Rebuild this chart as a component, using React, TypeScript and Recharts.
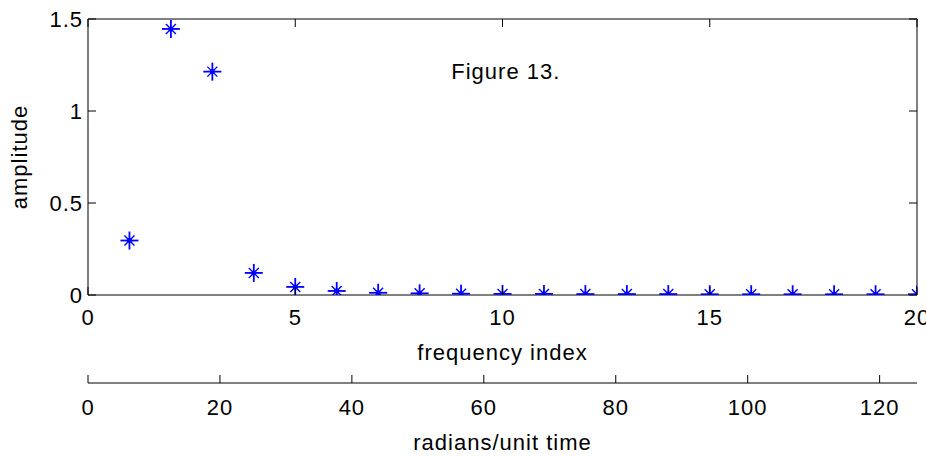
import { ScatterChart, Scatter, XAxis, YAxis, ReferenceDot } from "recharts"

// frequency index k and the measured amplitude at that index
const FREQ_INDEX = [1, 2, 3, 4, 5, 6, 7, 8, 9, 10, 11, 12, 13, 14, 15, 16, 17, 18, 19, 20]
const AMPLITUDE = [
  0.296, 1.446, 1.214, 0.12, 0.044, 0.022, 0.012, 0.009, 0.007, 0.006,
  0.006, 0.005, 0.005, 0.005, 0.004, 0.004, 0.004, 0.004, 0.004, 0.004,
]

const INDEX_TICKS = [0, 5, 10, 15, 20]
const AMP_TICKS = [0, 0.5, 1, 1.5]
const RAD_TICKS = [0, 20, 40, 60, 80, 100, 120]
const RAD_MAX = 40 * Math.PI // index 20 -> 2*pi*20 rad

const FONT = "'Liberation Sans', Arial, sans-serif"
const INK = "#000"
const TICK_LEN = 8

const points = FREQ_INDEX.map((k, i) => ({ k, amp: AMPLITUDE[i] }))
const radPoints = FREQ_INDEX.map((k, i) => ({ rad: 2 * Math.PI * k, amp: AMPLITUDE[i] }))

const textStyle = { fontFamily: FONT, fontSize: 22, fill: INK, letterSpacing: 1 }

function Asterisk(props: any) {
  const { cx, cy } = props
  if (cx == null || cy == null) return <g />
  const a = 9
  const d = 5
  return (
    <g stroke="#0000ff" fill="#0000ff">
      <line x1={cx - a} y1={cy} x2={cx + a} y2={cy} strokeWidth={1.8} />
      <line x1={cx} y1={cy - a} x2={cx} y2={cy + a} strokeWidth={1.8} />
      <line x1={cx - d} y1={cy - d} x2={cx + d} y2={cy + d} strokeWidth={1.4} />
      <line x1={cx - d} y1={cy + d} x2={cx + d} y2={cy - d} strokeWidth={1.4} />
      <circle cx={cx} cy={cy} r={2.5} stroke="none" />
    </g>
  )
}

const Nothing = () => <g />

// ticks point into the plot, MATLAB style
function BottomTick({ x, y, payload }: any) {
  return (
    <g>
      <line x1={x} y1={y} x2={x} y2={y - TICK_LEN} stroke={INK} />
      <text x={x} y={y + 30} textAnchor="middle" {...textStyle}>{payload.value}</text>
    </g>
  )
}

function RadTick({ x, y, payload }: any) {
  return (
    <g>
      <line x1={x} y1={y} x2={x} y2={y - TICK_LEN} stroke={INK} />
      <text x={x} y={y + 32} textAnchor="middle" {...textStyle}>{payload.value}</text>
    </g>
  )
}

function TopTick({ x, y }: any) {
  return <line x1={x} y1={y} x2={x} y2={y + TICK_LEN} stroke={INK} />
}

function LeftTick({ x, y, payload }: any) {
  return (
    <g>
      <line x1={x} y1={y} x2={x + TICK_LEN} y2={y} stroke={INK} />
      <text x={x - 5} y={y + 8} textAnchor="end" {...textStyle}>{payload.value}</text>
    </g>
  )
}

function RightTick({ x, y }: any) {
  return <line x1={x} y1={y} x2={x - TICK_LEN} y2={y} stroke={INK} />
}

export default function App() {
  return (
    <div style={{ position: "absolute", left: 0, top: 0, background: "#fff" }}>
      <ScatterChart width={926} height={456} margin={{ top: 18, right: 8, bottom: 0, left: 0 }}>
        <XAxis
          xAxisId="top"
          orientation="top"
          type="number"
          dataKey="k"
          domain={[0, 20]}
          ticks={INDEX_TICKS}
          interval={0}
          height={1}
          tickSize={0}
          tickMargin={0}
          tickLine={false}
          tick={<TopTick />}
          axisLine={{ stroke: INK }}
          allowDataOverflow
        />
        <XAxis
          xAxisId="idx"
          type="number"
          dataKey="k"
          domain={[0, 20]}
          ticks={INDEX_TICKS}
          interval={0}
          height={88}
          tickSize={0}
          tickMargin={0}
          tickLine={false}
          tick={<BottomTick />}
          axisLine={{ stroke: INK }}
          allowDataOverflow
          label={({ viewBox }: any) => (
            <text x={viewBox.x + viewBox.width / 2} y={viewBox.y + 65} textAnchor="middle" {...textStyle}>
              frequency index
            </text>
          )}
        />
        <XAxis
          xAxisId="rad"
          type="number"
          dataKey="rad"
          domain={[0, RAD_MAX]}
          ticks={RAD_TICKS}
          interval={0}
          height={73}
          tickSize={0}
          tickMargin={0}
          tickLine={false}
          tick={<RadTick />}
          axisLine={{ stroke: INK }}
          allowDataOverflow
          label={({ viewBox }: any) => (
            <text x={viewBox.x + viewBox.width / 2} y={viewBox.y + 67} textAnchor="middle" {...textStyle}>
              radians/unit time
            </text>
          )}
        />
        <YAxis
          yAxisId="amp"
          type="number"
          dataKey="amp"
          domain={[0, 1.5]}
          ticks={AMP_TICKS}
          interval={0}
          width={88}
          tickSize={0}
          tickMargin={0}
          tickLine={false}
          tick={<LeftTick />}
          axisLine={{ stroke: INK }}
          allowDataOverflow
          label={({ viewBox }: any) => {
            const cx = 27
            const cy = viewBox.y + viewBox.height / 2
            return (
              <text x={cx} y={cy} textAnchor="middle" transform={`rotate(-90 ${cx} ${cy})`} {...textStyle}>
                amplitude
              </text>
            )
          }}
        />
        <YAxis
          yAxisId="ampR"
          orientation="right"
          type="number"
          dataKey="amp"
          domain={[0, 1.5]}
          ticks={AMP_TICKS}
          interval={0}
          width={1}
          tickSize={0}
          tickMargin={0}
          tickLine={false}
          tick={<RightTick />}
          axisLine={{ stroke: INK }}
          allowDataOverflow
        />
        <Scatter data={radPoints} xAxisId="rad" yAxisId="amp" shape={Nothing} isAnimationActive={false} />
        <Scatter data={points} xAxisId="top" yAxisId="ampR" shape={Nothing} isAnimationActive={false} />
        <Scatter data={points} xAxisId="idx" yAxisId="amp" shape={Asterisk} isAnimationActive={false} />
        <ReferenceDot
          xAxisId="idx"
          yAxisId="amp"
          x={10.08}
          y={1.217}
          r={0}
          stroke="none"
          label={({ viewBox }: any) => (
            <text x={viewBox.x + viewBox.width / 2} y={viewBox.y + viewBox.height / 2 + 8} textAnchor="middle" {...textStyle}>
              Figure 13.
            </text>
          )}
        />
      </ScatterChart>
    </div>
  )
}
